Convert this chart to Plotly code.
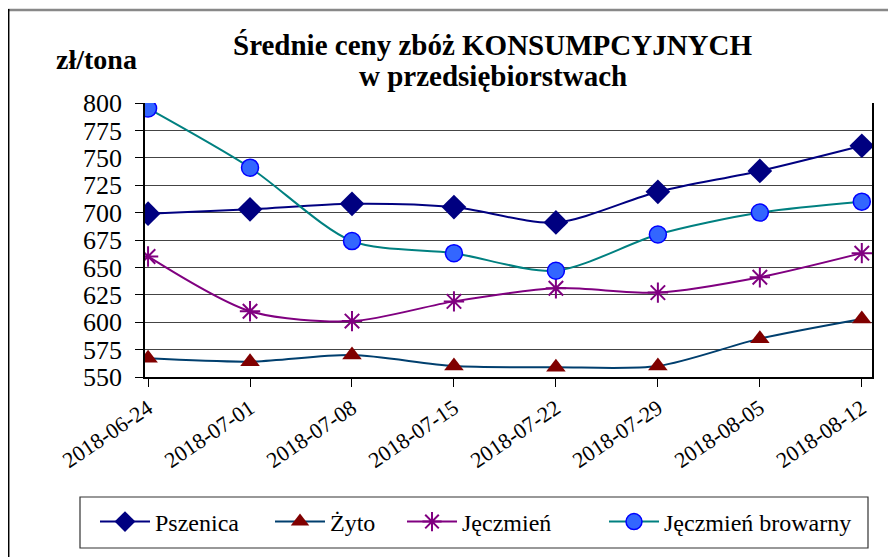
import plotly.graph_objects as go

dates = ["2018-06-24", "2018-07-01", "2018-07-08", "2018-07-15",
         "2018-07-22", "2018-07-29", "2018-08-05", "2018-08-12"]
pszenica = [699, 703, 708, 705, 691, 719, 738, 761]
zyto = [567, 564, 570, 560, 559, 560, 585, 603]
jeczmien = [660, 610, 601, 619, 631, 627, 641, 663]
browarny = [795, 741, 674, 663, 647, 680, 700, 710]
y_ticks = [550, 575, 600, 625, 650, 675, 700, 725, 750, 775, 800]
series_names = ["Pszenica", "Żyto", "Jęczmień", "Jęczmień browarny"]

OFF = 8  # page body margin offset
W, H = 896 - OFF, 557 - OFF
L, R, T, B = 145 - OFF, 24, 103 - OFF, 180
pw, ph = W - L - R, H - T - B

def px(x):
    return (x - OFF - L) / pw

def py(y):
    return (H - B - (y - OFF)) / ph

serif = "Liberation Serif, serif"
xi = list(range(len(dates)))
fig = go.Figure()

fig.add_trace(go.Scatter(x=xi, y=pszenica, name=series_names[0], mode="lines+markers",
                         legend="legend",
                         line=dict(color="#000080", width=2, shape="spline", smoothing=0.8),
                         marker=dict(symbol="diamond", size=19, color="#000080")))
fig.add_trace(go.Scatter(x=xi, y=zyto, name=series_names[1], mode="lines+markers",
                         legend="legend2",
                         line=dict(color="#003F6E", width=2, shape="spline", smoothing=0.8),
                         marker=dict(symbol="triangle-up", size=17, color="#800000")))
fig.add_trace(go.Scatter(x=xi, y=jeczmien, name=series_names[2], mode="lines+markers",
                         legend="legend3",
                         line=dict(color="#800080", width=2, shape="spline", smoothing=0.8),
                         marker=dict(symbol="asterisk-open", size=17,
                                     line=dict(color="#800080", width=2))))
fig.add_trace(go.Scatter(x=xi, y=browarny, name=series_names[3], mode="lines+markers",
                         legend="legend4",
                         line=dict(color="#008080", width=2, shape="spline", smoothing=0.8),
                         marker=dict(symbol="circle", size=17, color="#3366FF",
                                     line=dict(color="#0000FF", width=1.5))))

def leg(marker_x):
    return dict(orientation="h", x=px(marker_x - 25), xanchor="left",
                y=py(522), yanchor="middle", font=dict(size=24, family=serif),
                bgcolor="rgba(0,0,0,0)", borderwidth=0, itemwidth=50)

fig.update_layout(
    width=W, height=H,
    margin=dict(l=L, r=R, t=T, b=B),
    paper_bgcolor="white", plot_bgcolor="white",
    font=dict(family=serif, color="black"),
    showlegend=True,
    legend=leg(120), legend2=leg(295), legend3=leg(427), legend4=leg(629),
    annotations=[
        dict(text="<b>Średnie ceny zbóż KONSUMPCYJNYCH</b>",
             x=px(492), y=py(45), xref="paper", yref="paper", showarrow=False,
             xanchor="center", yanchor="middle", font=dict(size=29, family=serif)),
        dict(text="<b>w przedsiębiorstwach</b>",
             x=px(493), y=py(76), xref="paper", yref="paper", showarrow=False,
             xanchor="center", yanchor="middle", font=dict(size=29, family=serif)),
        dict(text="<b>zł/tona</b>", x=px(96), y=py(60), xref="paper", yref="paper",
             showarrow=False, xanchor="center", yanchor="middle",
             font=dict(size=28, family=serif)),
    ],
    shapes=[
        dict(type="line", xref="paper", yref="paper", x0=px(8), x1=px(904), y0=py(10), y1=py(10),
             line=dict(color="#888888", width=2.5)),
        dict(type="line", xref="paper", yref="paper", x0=px(8.7), x1=px(8.7), y0=py(9), y1=py(560),
             line=dict(color="black", width=1.5)),
        dict(type="rect", xref="paper", yref="paper", x0=px(80), x1=px(868), y0=py(497), y1=py(548),
             line=dict(color="#333333", width=1.2)),
    ],
)

fig.update_xaxes(range=[-0.03, 7.1], tickmode="array", tickvals=xi, ticktext=dates,
                 tickangle=-34, tickfont=dict(size=22, family=serif),
                 ticks="outside", ticklen=8, tickcolor="black", tickwidth=1,
                 showline=True, linecolor="black", linewidth=1.5,
                 showgrid=False, zeroline=False)
fig.update_yaxes(range=[550, 800], tickmode="array", tickvals=y_ticks,
                 tickfont=dict(size=26, family=serif), ticklabelstandoff=8,
                 ticks="outside", ticklen=8, tickcolor="black", tickwidth=1,
                 showline=True, linecolor="black", linewidth=1.5, mirror=True,
                 showgrid=True, gridcolor="#444444", gridwidth=1.2, zeroline=False)

fig.write_html("out.html")
